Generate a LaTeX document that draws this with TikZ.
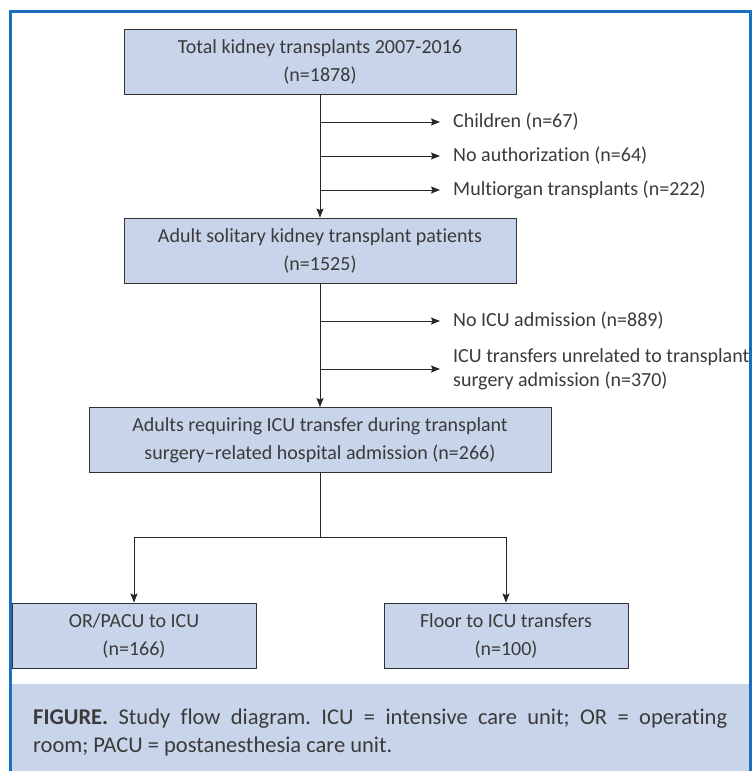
\documentclass[tikz,border=0pt]{standalone}
\usepackage{fontspec}
\setmainfont{Carlito}[Ligatures=NoCommon]
\usetikzlibrary{arrows.meta}
\definecolor{frameblue}{HTML}{1A6FC0}
\definecolor{boxblue}{HTML}{C8D4EA}
\definecolor{textgray}{HTML}{3A3A3A}
\frenchspacing
\begin{document}
\begin{tikzpicture}[x=1pt,y=-1pt,>={Stealth[length=9pt,width=7pt,inset=1.5pt]},
	stagebox/.style={draw=black!80,line width=0.9pt,fill=boxblue,text=textgray,
		minimum height=65pt,align=center,font=\fontsize{20}{28}\selectfont},
	sidetext/.style={anchor=west,text=textgray,align=left,inner xsep=13pt,
		font=\fontsize{20}{24}\selectfont},
	captiontext/.style={anchor=west,text=textgray,inner sep=0pt,font=\fontsize{22.5}{27}\selectfont},
	flow/.style={draw=black!85,line width=0.9pt}]
		\useasboundingbox (0,0) rectangle (753,771);
		% caption band
		\fill[boxblue] (12,684) rectangle (749,771);
		\node[captiontext] (caption1) at (33,719)
			{\makebox[694pt][s]{\textbf{FIGURE.} Study flow diagram. ICU = intensive care unit; OR = operating}};
		\node[captiontext] (caption2) at (33,746)
			{room; PACU = postanesthesia care unit.};
		% stages
		\node[stagebox,minimum width=392pt] (total) at (320,61.5) {Total kidney transplants 2007-2016\\(n=1878)};
		\node[stagebox,minimum width=392pt] (adult) at (320,250.5) {Adult solitary kidney transplant patients\\(n=1525)};
		\node[stagebox,minimum width=462pt] (icu) at (320,440) {Adults requiring ICU transfer during transplant\\surgery--related hospital admission (n=266)};
		\node[stagebox,minimum width=244pt] (orpacu) at (134,635.5) {OR/PACU to ICU\\(n=166)};
		\node[stagebox,minimum width=244pt] (floor) at (506,635.5) {Floor to ICU transfers\\(n=100)};
		% exclusions
		\node[sidetext] (children) at (440,122) {Children (n=67)};
		\node[sidetext] (noauth) at (440,156) {No authorization (n=64)};
		\node[sidetext] (multi) at (440,190) {Multiorgan transplants (n=222)};
		\node[sidetext] (noicu) at (440,321) {No ICU admission (n=889)};
		\node[sidetext] (unrel) at (440,369) {ICU transfers unrelated to transplant\\surgery admission (n=370)};
		\coordinate (c1) at (320,122);
		\coordinate (c2) at (320,156);
		\coordinate (c3) at (320,190);
		\coordinate (c4) at (320,321);
		\coordinate (c5) at (320,369);
		\coordinate (split) at (320,537);
		% connectors
		\draw[flow,->] (total.south) -- (adult.north);
		\draw[flow,->] (c1) -- (children.west);
		\draw[flow,->] (c2) -- (noauth.west);
		\draw[flow,->] (c3) -- (multi.west);
		\draw[flow,->] (adult.south) -- (icu.north);
		\draw[flow,->] (c4) -- (noicu.west);
		\draw[flow,->] (c5) -- (unrel.west);
		\draw[flow] (icu.south) -- (split);
		\draw[flow,->] (split) -| (orpacu.north);
		\draw[flow,->] (split) -| (floor.north);
		% frame
		\draw[frameblue,line width=3.5pt,line join=miter] (10.5,771) |- (750.5,11.5) -- (750.5,771);
	\end{tikzpicture}
\end{document}
